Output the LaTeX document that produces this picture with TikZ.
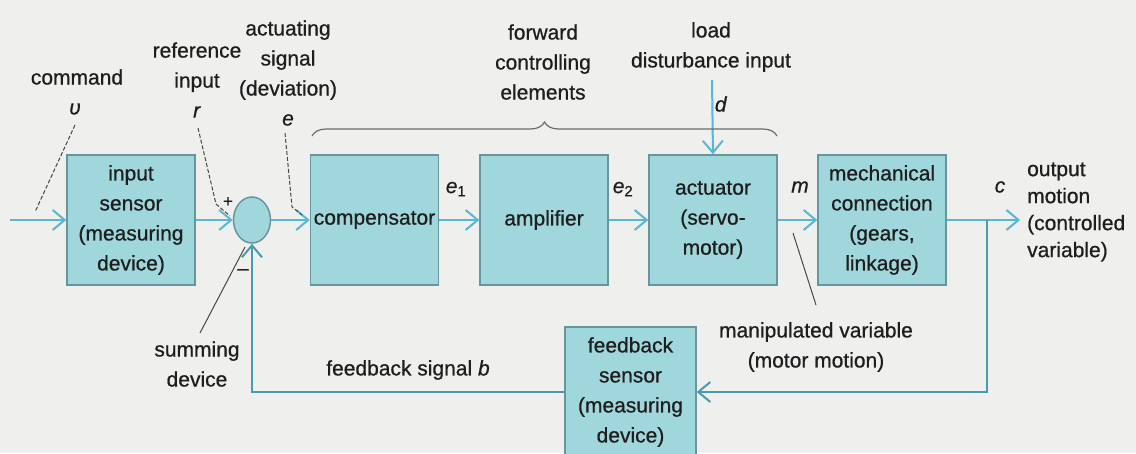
\documentclass[tikz,border=0pt]{standalone}
\usepackage{fontspec}
\setmainfont[FakeBold=0.7,
  ItalicFeatures={FakeBold=0.7}]{Liberation Sans}
\usetikzlibrary{arrows.meta,shapes.geometric,decorations.pathreplacing}
\definecolor{bg}{RGB}{239,239,237}
\definecolor{boxfill}{RGB}{160,215,220}
\definecolor{bord}{RGB}{104,150,158}
\definecolor{sigc}{RGB}{88,182,214}
\definecolor{fbc}{RGB}{72,155,180}
\definecolor{txt}{RGB}{30,30,30}
\definecolor{lead}{RGB}{70,70,70}
\tikzset{
  blk/.style={draw=bord, fill=boxfill, line width=1.5pt, minimum width=128pt, minimum height=130pt,
    inner sep=0pt, align=center, text=txt, font=\fontsize{21}{30}\selectfont},
  sumst/.style={ellipse, draw=bord, fill=boxfill, line width=1.5pt, minimum width=37pt, minimum height=46pt, inner sep=0pt},
  lbl/.style={align=center, text=txt, inner sep=0pt, font=\fontsize{21}{30}\selectfont},
  sig/.style={draw=sigc, line width=2pt, -{Straight Barb[length=12pt,width=20pt]}},
  fbarrow/.style={draw=fbc, line width=2pt, -{Straight Barb[length=12pt,width=20pt]}},
  leaddash/.style={draw=lead, line width=1pt, dash pattern=on 4pt off 2pt},
  leadsolid/.style={draw=lead, line width=1pt},
  bracest/.style={draw=lead!80, line width=1.2pt, decorate, decoration={brace, amplitude=14pt}}
}
\begin{document}
\begin{tikzpicture}[x=1pt,y=-1pt]
\useasboundingbox (0,0) rectangle (1136,453);
\clip (0,0) rectangle (1136,453);
\fill[bg] (0,0) rectangle (1136,453);

% blocks
\node[blk] (insensor) at (131,220) {input\\sensor\\(measuring\\device)};
\node[sumst] (sum) at (252,220) {};
\node[blk] (comp) at (374.5,220) {compensator};
\node[blk] (amp) at (544,220) {amplifier};
\node[blk] (act) at (713,220) {actuator\\(servo-\\motor)};
\node[blk] (mech) at (882,220) {mechanical\\connection\\(gears,\\linkage)};
\node[blk, minimum width=131pt] (fbs) at (630.5,392) {feedback\\sensor\\(measuring\\device)};

% coordinates
\coordinate (in) at (10,220);
\coordinate (out) at (1020,220);
\coordinate (tap) at (987,220);
\coordinate (dtop) at (712,80);

% signal flow
\draw[sig] (in) -- (insensor.west);
\draw[sig] (insensor.east) -- (sum.west);
\draw[sig] (sum.east) -- (comp.west);
\draw[sig] (comp.east) -- (amp.west);
\draw[sig] (amp.east) -- (act.west);
\draw[sig] (act.east) -- (mech.west);
\draw[sig] (mech.east) -- (out);
\draw[sig] (dtop) -- (act.north);
\draw[fbarrow] (tap) |- (fbs.east);
\draw[fbarrow] (fbs.west) -| (sum.south);

% labels
\node[lbl] (cmd) at (77,77) {command};
\node[lbl] (v) at (75,109) {\textit{υ}};
\node[lbl] (ref) at (197,80) {reference\\input\\\textit{r}};
\node[lbl] (actlbl) at (288,73) {actuating\\signal\\(deviation)\\\textit{e}};
\node[lbl] (fwd) at (543,62) {forward\\controlling\\elements};
\node[lbl] (load) at (711,47) {load\\disturbance input};
\node[lbl] (d) at (721,104) {\textit{d}};
\node[lbl] (e1) at (456,189) {\textit{e}\textsubscript{1}};
\node[lbl] (e2) at (623,189) {\textit{e}\textsubscript{2}};
\node[lbl] (m) at (800,187) {\textit{m}};
\node[lbl] (c) at (1000,187) {\textit{c}};
\node[lbl, align=left, anchor=west, font=\fontsize{21}{27}\selectfont] (outl) at (1027,212) {output\\motion\\(controlled\\variable)};
\node[lbl] (summ) at (197,364) {summing\\device};
\node[lbl] (fbl) at (408,370) {feedback signal \textit{b}};
\node[lbl] (man) at (816,347) {manipulated variable\\(motor motion)};
\node[lbl, font=\fontsize{17}{17}\selectfont] (plus) at (228,202) {+};
\node[lbl, font=\fontsize{20}{20}\selectfont] (minus) at (243,272) {–};

% leader lines
\coordinate (c1) at (75,125); \coordinate (c2) at (35,212);
\draw[leaddash] (c1) -- (c2);
\coordinate (r1) at (198,128); \coordinate (r2) at (216,204); \coordinate (r3) at (230,216);
\draw[leaddash] (r1) -- (r2) -- (r3);
\coordinate (e1a) at (285,133); \coordinate (e1b) at (292,207); \coordinate (e1c) at (302,215);
\draw[leaddash] (e1a) -- (e1b) -- (e1c);
\coordinate (s1) at (245,247); \coordinate (s2) at (200,333);
\draw[leadsolid] (s1) -- (s2);
\coordinate (m1) at (793,233); \coordinate (m2) at (816,305);
\draw[leadsolid] (m1) -- (m2);

% brace
\coordinate (bl) at (312,136); \coordinate (br) at (777,136);
\draw[bracest] (bl) -- (br);
\end{tikzpicture}
\end{document}
